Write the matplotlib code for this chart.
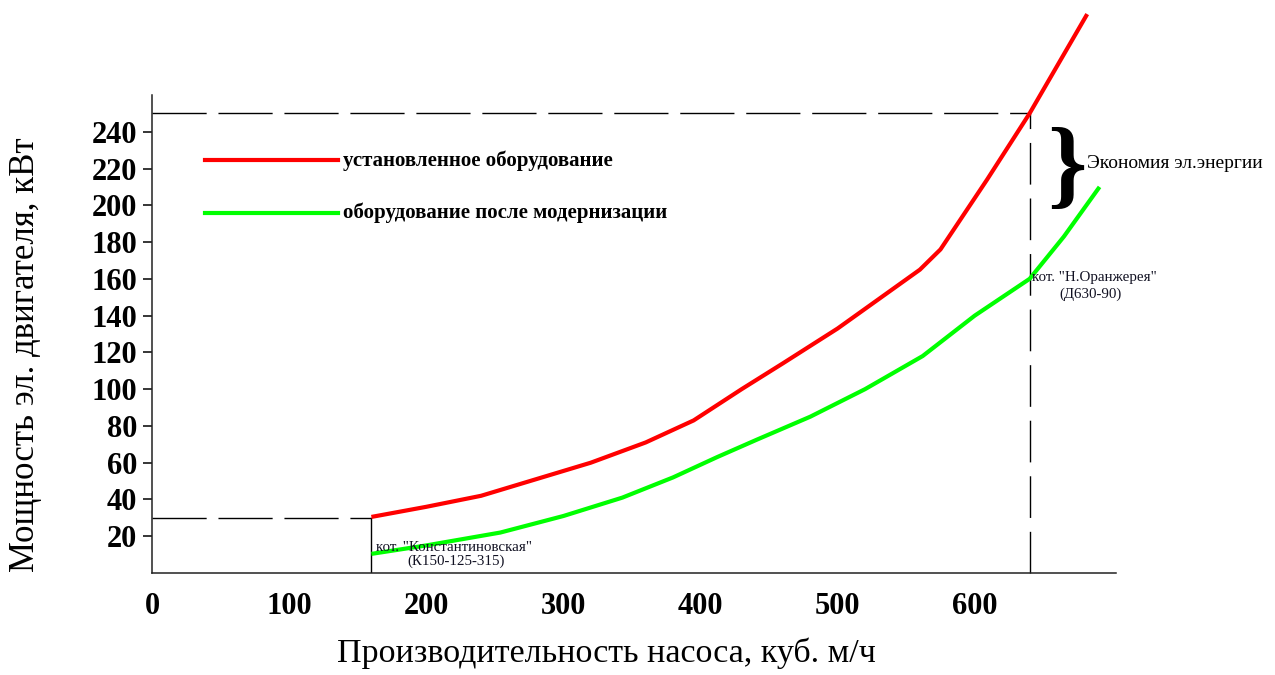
import matplotlib
matplotlib.use("Agg")
import matplotlib.pyplot as plt

# ---- data ----
red_x = [160, 200, 240, 280, 320, 360, 395, 430, 460, 500, 530, 560, 575, 609, 640, 682]
red_y = [30.5, 36, 42, 51, 60, 71, 83, 100, 114, 133, 149, 165, 176, 214, 250, 304]
green_x = [160, 200, 254, 300, 343, 380, 412, 441, 480, 520, 562, 600, 640, 665, 691]
green_y = [10.4, 15, 22, 31, 41, 52, 63, 72.5, 85, 100, 118, 140, 160, 183, 210]

x_ticks = [0, 100, 200, 300, 400, 500, 600]
y_ticks = [20, 40, 60, 80, 100, 120, 140, 160, 180, 200, 220, 240]

legend_labels = ["установленное оборудование", "оборудование после модернизации"]
x_label = "Производительность насоса, куб. м/ч"
y_label = "Мощность эл. двигателя, кВт"

low_point = (160, 30)
high_point = (640, 250)

plt.rcParams['font.family'] = ['Liberation Serif', 'DejaVu Serif']

fig = plt.figure(figsize=(12.75, 6.75), dpi=100)
ax = fig.add_axes([152/1275, 1 - 573/675, (1116-152)/1275, (573-95)/675])
ax.set_xlim(0, 703)
ax.set_ylim(0, 260)

for s in ['top', 'right']:
    ax.spines[s].set_visible(False)
for s in ['left', 'bottom']:
    ax.spines[s].set_linewidth(1.1)
    ax.spines[s].set_color('#222222')

dash = (0, (39, 8.5))
# reference lines
ax.plot([0, high_point[0]], [high_point[1], high_point[1]], color='black', lw=1.0,
        linestyle=dash, clip_on=False)
ax.plot([high_point[0], high_point[0]], [0, high_point[1]], color='black', lw=1.0,
        linestyle=(0, (30, 10)), clip_on=False)
ax.plot([0, low_point[0]], [low_point[1], low_point[1]], color='black', lw=1.0,
        linestyle=dash)
ax.plot([low_point[0], low_point[0]], [0, low_point[1]], color='black', lw=1.0)

ax.plot(red_x, red_y, color='#ff0000', lw=3, clip_on=False, solid_capstyle='butt')
ax.plot(green_x, green_y, color='#00ff00', lw=3, clip_on=False, solid_capstyle='butt')

ax.set_xticks(x_ticks)
ax.set_xticklabels([str(v) for v in x_ticks], fontsize=22, fontweight='bold')
ax.set_yticks(y_ticks)
ax.set_yticklabels([str(v) for v in y_ticks], fontsize=22, fontweight='bold')
ax.tick_params(axis='x', length=0, pad=14)
ax.tick_params(axis='y', length=6.5, width=1.1, pad=4, direction='out')

ax.set_xlabel(x_label, fontsize=24.5)
ax.xaxis.set_label_coords(0.471, -0.134)
ax.set_ylabel(y_label, fontsize=25)
ax.yaxis.set_label_coords(-0.114, 0.456)

# legend (manual, matching reference)
ax.plot([39, 136], [224.5, 224.5], color='#ff0000', lw=3)
ax.text(139, 224.5, legend_labels[0], fontsize=15, fontweight='bold', va='center', ha='left')
ax.plot([39, 136], [196, 196], color='#00ff00', lw=3)
ax.text(139, 196, legend_labels[1], fontsize=15, fontweight='bold', va='center', ha='left')

# annotations
ax.text(163, 14, 'кот. "Константиновская"', fontsize=10.8, ha='left', va='center', color='#111122')
ax.text(186, 6.5, '(К150-125-315)', fontsize=10.8, ha='left', va='center', color='#111122')
ax.text(642, 161, 'кот. "Н.Оранжерея"', fontsize=10.8, ha='left', va='center', color='#111122')
ax.text(662, 151.5, '(Д630-90)', fontsize=10.8, ha='left', va='center', color='#111122')

ax.text(653, 218, '}', fontsize=72, fontweight='bold', ha='left', va='center', clip_on=False)
ax.text(682, 223, 'Экономия эл.энергии', fontsize=14, ha='left', va='center', clip_on=False)

fig.savefig('out.png', dpi=100)
